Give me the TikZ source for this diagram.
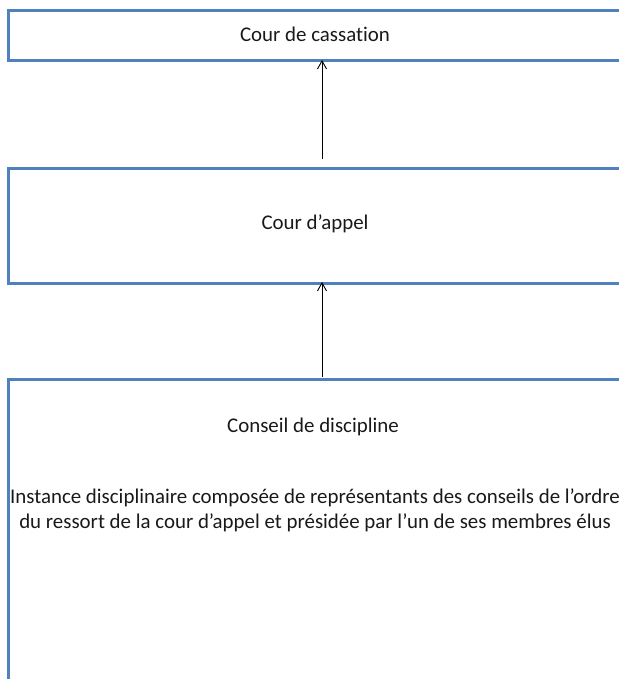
\documentclass[tikz,border=0pt]{standalone}
\usepackage{fontspec}
\setmainfont[Ligatures=NoCommon]{Carlito}
\usetikzlibrary{arrows.meta}
\definecolor{boxblue}{HTML}{4F81BD}
\begin{document}
\begin{tikzpicture}[x=1bp,y=-1bp,
  courtbox/.style={draw=boxblue,line width=3bp,rectangle,inner sep=0pt,anchor=north west},
  lbl/.style={font=\fontsize{20.9bp}{25bp}\selectfont,align=center,inner sep=0pt,text=black!90},
  uparrow/.style={draw=black,line width=0.9bp,-{Straight Barb[length=8bp,width=9bp]}}]
\useasboundingbox (0,0) rectangle (619,679);
\clip (0,0) rectangle (619,679);
\node[courtbox,minimum width=616bp,minimum height=50bp] (cass) at (7,9) {};
\node[courtbox,minimum width=616bp,minimum height=115bp] (appel) at (7,167) {};
\node[courtbox,minimum width=616bp,minimum height=340bp] (cons) at (7,378) {};
\node[lbl] (tcass) at (315,34) {Cour de cassation};
\node[lbl] (tappel) at (315,224) {Cour d’appel};
\node[lbl] (tcons) at (313,427) {Conseil de discipline};
\node[lbl] (tdesc) at (315,510) {Instance disciplinaire composée de représentants des conseils de l’ordre\\du ressort de la cour d’appel et présidée par l’un de ses membres élus};
\coordinate (a1s) at (322,159);
\coordinate (a1e) at (322,60);
\coordinate (a2s) at (322,377);
\coordinate (a2e) at (322,282);
\draw[uparrow] (a1s) -- (a1e);
\draw[uparrow] (a2s) -- (a2e);
\end{tikzpicture}
\end{document}
